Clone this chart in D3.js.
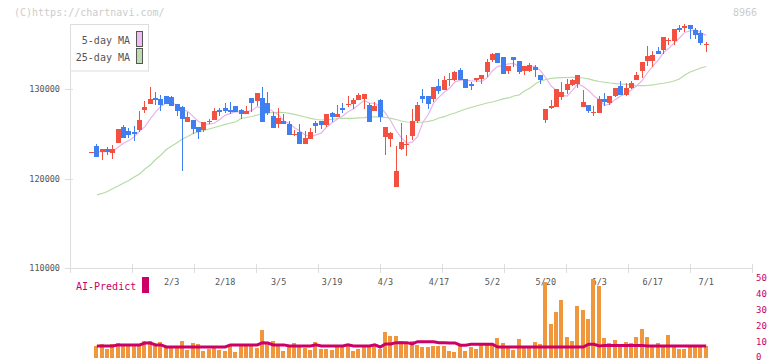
<!DOCTYPE html>
<html><head><meta charset="utf-8">
<script src="https://cdn.jsdelivr.net/npm/d3@7"></script>
<style>body{margin:0;background:#fff}svg{display:block}text{font-family:"DejaVu Sans Mono",monospace}</style>
</head><body><svg id="c" width="772" height="361"></svg>
<script>
const tickLabels = ["2/3","2/18","3/5","3/19","4/3","4/17","5/2","5/20","6/3","6/17","7/1"];
const tickIdx = [15,25,35,45,55,65,75,85,95,105,115];
const priceTicks = [110000,120000,130000];
const volTicks = [0,10,20,30,40,50];

const open = [122980,123640,123010,123310,122900,124010,125760,125320,125210,125430,127660,128330,129000,128890,129220,129110,128330,127990,126320,126540,125760,125430,126320,126540,127660,127880,127660,128100,127660,127210,129000,128660,129000,128440,126990,126100,126430,126100,124870,125210,123870,124430,126210,126430,125990,127320,126880,127880,128220,128330,128770,128890,128220,127550,128770,124650,124430,119070,123310,123760,124760,126430,129220,129220,128890,130330,129890,131000,131000,132120,131110,130560,131000,131110,131900,133230,134010,133570,132010,133570,133120,132010,132010,132450,131560,126540,127880,127990,129110,129890,130450,130560,127990,128220,127380,127320,128890,128440,129220,130330,129330,130110,131000,132010,133120,133120,134240,134350,135350,135350,136800,136800,137140,136580,136240,134910];
const high = [122980,123870,123310,123530,123760,125540,125990,125650,125870,127550,128660,130220,129670,129330,129220,129220,128330,128100,127440,126540,125760,126320,126660,127880,127880,128440,128550,128100,127770,128100,129000,129550,130220,129670,127440,127880,127210,126430,125430,126100,125320,125650,126430,126430,127210,127440,128220,128440,129220,129000,129550,129440,128440,128550,128890,125760,125210,123640,126210,124870,127770,128550,130000,129220,130220,131110,131450,131780,132010,132340,131110,130780,131230,131560,133350,134010,134010,133570,132560,133570,133120,132560,132900,132680,131560,127770,128770,130000,130780,131110,131110,131560,129890,128220,128100,129220,129550,129220,130110,130890,130670,130890,131900,133010,134790,134240,134680,135800,135690,136690,137140,137250,137140,136800,136580,135240];
const low = [122980,122450,122080,122640,122200,124010,124570,124540,124200,125210,127320,128330,128220,127550,128330,128100,126990,120860,126320,124980,124430,125210,126100,126540,126990,127320,127210,127440,126660,127210,127440,128100,126320,127100,125650,125650,126100,124870,124760,123870,123870,124430,125090,125540,125760,126320,126880,127320,127990,127770,128770,127770,126320,127550,126320,122640,123530,119070,123200,122530,124310,126210,128440,127770,128550,129440,129890,130330,130890,131000,130110,129890,130780,130560,131340,133010,132900,131670,131670,132450,131670,131560,131900,131340,130560,126210,127770,127990,128770,129440,130330,130110,127990,127320,126990,127320,128100,128220,129110,129330,129220,130000,131000,131230,132560,132450,133900,133900,134910,134910,136360,136360,135580,135580,134910,134130];
const close = [122980,122450,123310,123010,123310,125540,124570,124870,124980,126540,127990,128890,128770,128220,128330,128100,127550,126660,126880,125540,125210,126320,126430,127550,127440,127550,127440,127440,127210,127550,128440,129550,126320,127320,125650,126770,126100,124870,124980,123870,124540,125210,125870,125990,127210,126880,127210,127660,128330,128770,129330,129440,126320,128100,126880,125760,125090,120860,124090,123870,126430,128220,128890,128330,130220,129780,131000,131110,131900,131000,130110,130330,131230,131560,133010,133900,132900,131670,132560,133230,131900,132560,132680,132120,131000,127770,128100,130000,129670,130560,131000,131560,128550,127550,127440,128890,128550,129220,130110,129330,130110,130670,131560,133010,133680,133790,133900,135800,135460,136690,136580,137030,136690,136020,135130,135020];
const ma5 = [null,122980,123030,123010,123010,123520,123950,124260,124660,125310,125800,126660,127440,128080,128440,128460,128190,127770,127500,126940,126370,126120,126080,126210,126590,127060,127280,127480,127410,127440,127610,128040,127810,127840,127460,127120,126430,126140,125670,125320,124870,124690,124890,125090,125760,126230,126630,126990,127460,127770,128260,128710,128440,128390,128020,127300,126430,125340,124540,123930,124070,124690,126300,127150,128420,129090,129640,130090,130800,130960,131030,130890,130910,130850,131250,132010,132520,132610,132810,132850,132450,132390,132590,132500,132050,131230,130330,129800,129310,129220,129870,130560,130270,129840,129220,128800,128190,128330,128840,129220,129460,129890,130360,130940,131810,132540,133190,134040,134530,135130,135690,136310,136490,136600,136290,135980];
const ma25 = [null,118180,118350,118570,118910,119180,119520,119800,120190,120520,121080,121530,122140,122640,123250,123640,124010,124430,124700,125040,125210,125370,125540,125710,125870,126060,126210,126350,126710,126820,126930,127100,127210,127320,127380,127400,127380,127290,127160,127020,126880,126730,126600,126540,126600,126620,126710,126730,126730,126730,126770,126800,126880,126880,126880,126820,126730,126600,126430,126320,126290,126290,126290,126380,126510,126770,126910,127160,127320,127550,127770,127940,128100,128270,128440,128550,128720,128890,129000,129220,129330,129780,130080,130560,130890,131060,131190,131230,131260,131280,131300,131280,131230,131120,130970,130840,130750,130670,130610,130560,130520,130450,130370,130370,130390,130450,130560,130640,130750,130890,131120,131560,131900,132120,132340,132510];
const volume = [null,7.3,8.6,5.4,8.6,9.2,7.3,7.3,7.3,7.9,10.4,10.4,7.3,9.8,7.3,7.3,7.3,10.4,4.8,9.2,8.6,4.2,5.4,6.0,4.8,4.2,7.3,3.6,7.3,7.3,7.3,6.0,17.3,8.6,10.4,7.3,4.2,7.3,9.2,7.3,6.0,4.8,9.8,5.4,5.4,4.8,7.3,7.3,7.3,4.2,5.4,7.3,7.3,7.3,5.4,16.1,13.6,13.6,10.4,8.6,10.4,8.0,6.7,6.7,7.3,7.3,7.3,4.2,3.6,7.3,4.2,6.7,5.4,8.0,9.2,9.2,12.3,9.2,6.0,4.8,11.7,7.3,7.3,9.8,8.6,47.3,21.1,28.6,36.1,12.9,10.4,32.3,29.8,24.2,49.2,44.8,12.3,9.2,11.1,8.6,9.8,9.2,12.9,17.9,12.9,7.3,9.2,7.3,14.2,7.3,5.4,5.4,7.3,7.3,7.3,7.3];
const volPredict = [null,7.3,7.3,7.3,7.3,8.0,8.0,8.0,8.0,8.0,9.2,9.2,8.0,8.0,6.7,6.7,6.7,6.7,6.7,6.7,6.7,6.7,6.7,6.7,6.7,6.7,8.0,8.0,8.0,8.0,8.0,8.0,9.4,9.2,8.0,8.0,8.0,7.3,7.3,7.3,7.3,7.3,8.0,7.3,7.3,7.3,7.3,7.3,8.0,7.3,7.3,7.3,7.3,8.0,6.7,8.6,8.6,9.4,9.4,9.4,8.6,10,10,10,10,9.4,9.4,9.2,9.2,7.8,7.8,8.4,8.4,8.4,8.4,8.4,6.7,6.7,6.7,6.7,6.7,6.7,6.7,6.7,6.7,6.7,6.7,6.7,6.7,6.7,6.7,6.7,6.7,8.4,8.4,7.3,7.7,7.7,7.7,7.7,7.7,7.7,7.7,7.7,7.3,7.3,7.3,7.3,7.3,7.3,7.3,7.3,7.3,7.3,7.3,7.3];

const svg = d3.select('#c');
const x = d3.scaleLinear().domain([0,115]).range([91.5,706.2]);
const y = d3.scaleLinear().domain([110000,130000]).range([268.3,89]);
const yv = d3.scaleLinear().domain([0,50]).range([357.7,277.7]);
const gridX = d3.scaleLinear().domain([0,11]).range([70,752]);
const RED = "#f25041", BLUE = "#3f7ff0", AXIS = "#dddddd", TXT = "#555555", MAG = "#cc0066";

// watermark
svg.append('text').attr('x',14).attr('y',15.5).attr('font-size',10).attr('fill','#cccccc').text('(C)https://chartnavi.com/');
svg.append('text').attr('x',757).attr('y',15.5).attr('text-anchor','end').attr('font-size',10).attr('fill','#cccccc').text('8966');

// axes
svg.append('line').attr('x1',70.5).attr('x2',70.5).attr('y1',24).attr('y2',273).attr('stroke',AXIS);
svg.append('line').attr('x1',70).attr('x2',752).attr('y1',268.5).attr('y2',268.5).attr('stroke',AXIS);
svg.selectAll('.yt').data(priceTicks).join('line').attr('x1',65).attr('x2',73)
  .attr('y1',d=>Math.round(y(d))+0.5).attr('y2',d=>Math.round(y(d))+0.5).attr('stroke',AXIS);
svg.selectAll('.yl').data(priceTicks).join('text').attr('x',60).attr('y',d=>y(d)+3)
  .attr('text-anchor','end').attr('font-size',8.5).attr('fill',TXT).text(d=>d);
svg.selectAll('.xt').data(d3.range(1,12)).join('line')
  .attr('x1',d=>Math.round(gridX(d))+0.5).attr('x2',d=>Math.round(gridX(d))+0.5)
  .attr('y1',264).attr('y2',273).attr('stroke',AXIS);
svg.selectAll('.xl').data(tickIdx).join('text').attr('x',d=>x(d)).attr('y',285)
  .attr('text-anchor','middle').attr('font-size',8.5).attr('fill',TXT).text((d,i)=>tickLabels[i]);

// MA lines
const lineFull = (arr)=> d3.line().defined(d=>d.v!=null).x(d=>x(d.i)).y(d=>y(d.v))(arr.map((v,i)=>({v,i})));
svg.append('path').attr('d',lineFull(ma25)).attr('fill','none').attr('stroke','#b5dca5').attr('stroke-width',1.2);
svg.append('path').attr('d',lineFull(ma5)).attr('fill','none').attr('stroke','#e8b4ea').attr('stroke-width',1.2);

// candles
const idx = d3.range(open.length);
const g = svg.append('g');
idx.forEach(i=>{
  const col = close[i] >= open[i] ? RED : BLUE;
  const left = Math.round(x(i)-2.5);
  const yt = Math.round(y(Math.max(open[i],close[i])));
  const yb = Math.round(y(Math.min(open[i],close[i])));
  const yh = Math.round(y(high[i])), yl = Math.round(y(low[i]));
  if (yh < yl) g.append('rect').attr('x',left+2).attr('y',yh).attr('width',1).attr('height',Math.max(1,yl-yh)).attr('fill',col);
  g.append('rect').attr('x',left).attr('y',yt).attr('width',5).attr('height',Math.max(1,yb-yt)).attr('fill',col);
});

// legend
svg.append('rect').attr('x',70.5).attr('y',24.5).attr('width',78).attr('height',46.5).attr('fill','#fff').attr('stroke',AXIS);
svg.append('text').attr('x',130).attr('y',43.5).attr('text-anchor','end').attr('font-size',10).attr('fill',TXT).text('5-day MA');
svg.append('text').attr('x',130).attr('y',60.5).attr('text-anchor','end').attr('font-size',10).attr('fill',TXT).text('25-day MA');
svg.append('rect').attr('x',136.5).attr('y',31.5).attr('width',6).attr('height',15).attr('fill','#efbdef').attr('stroke','#555');
svg.append('rect').attr('x',136.5).attr('y',48.5).attr('width',6).attr('height',15).attr('fill','#bddcb0').attr('stroke','#555');

// volume
svg.append('text').attr('x',76).attr('y',289.5).attr('font-size',10).attr('fill',MAG).text('AI-Predict');
svg.append('rect').attr('x',142).attr('y',277).attr('width',7).attr('height',16).attr('fill',MAG);
svg.selectAll('.vb').data(idx.filter(i=>volume[i]!=null)).join('rect')
  .attr('x',i=>Math.round(x(i)-2.5)).attr('width',4)
  .attr('y',i=>Math.round(yv(volume[i]))).attr('height',i=>Math.round(yv(0))-Math.round(yv(volume[i])))
  .attr('fill','#f0963c');
const vline = d3.line().defined(d=>d.v!=null).x(d=>x(d.i)).y(d=>yv(d.v));
svg.append('path').attr('d',vline(volPredict.map((v,i)=>({v,i})))).attr('fill','none').attr('stroke',MAG).attr('stroke-width',3);
svg.selectAll('.vl').data(volTicks).join('text').attr('x',756).attr('y',d=>Math.min(359.5, yv(d)+3.2))
  .attr('font-size',9).attr('fill',MAG).text(d=>d);
</script></body></html>
